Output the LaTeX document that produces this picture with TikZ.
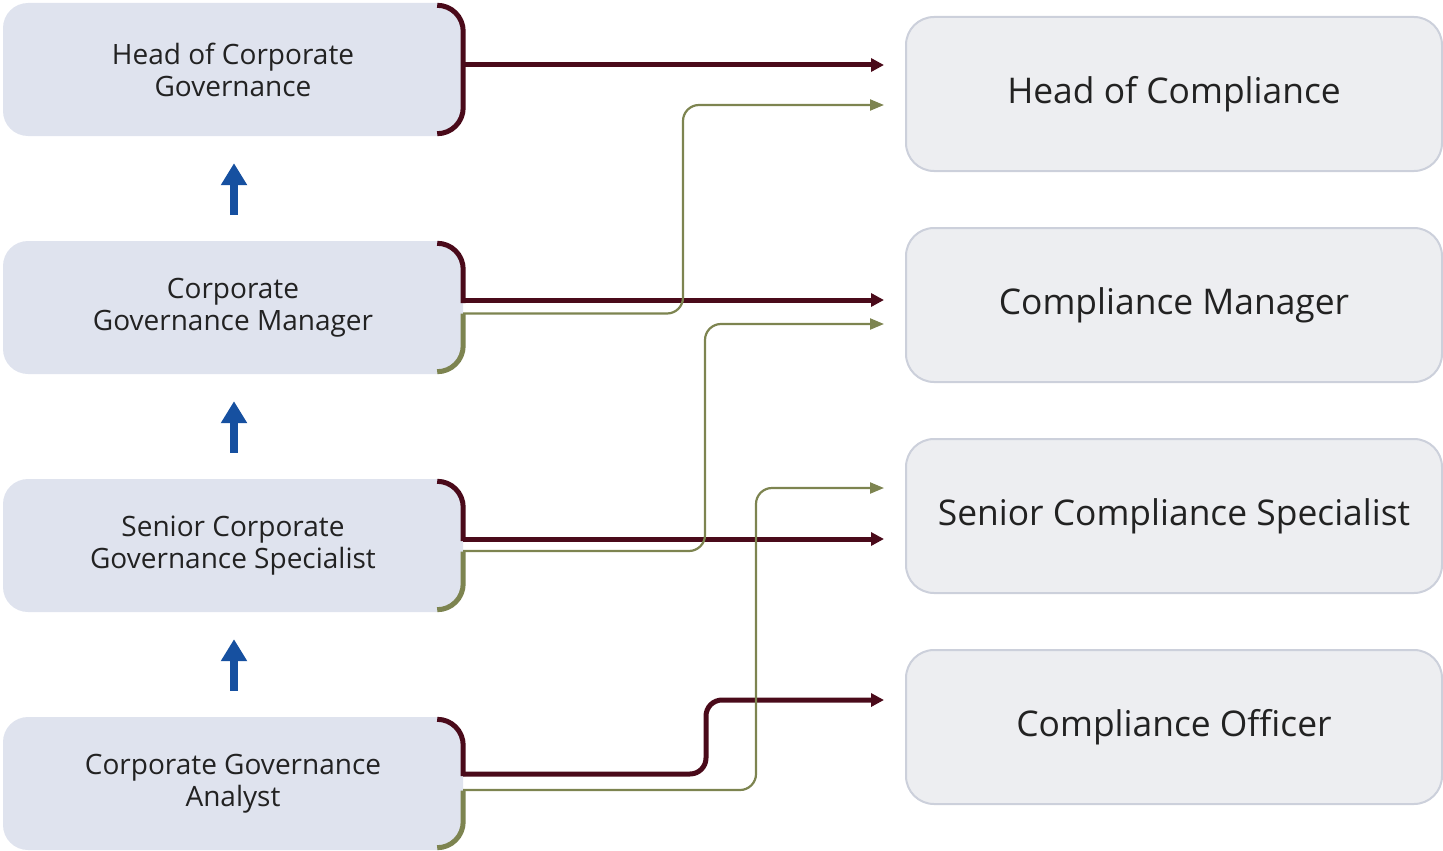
\documentclass[tikz,border=0pt]{standalone}
\usepackage{fontspec}
\setmainfont{Open Sans}
\usetikzlibrary{calc,arrows.meta}

\definecolor{leftfill}{HTML}{DFE3EE}
\definecolor{rightfill}{HTML}{EDEEF1}
\definecolor{rightedge}{HTML}{CCD0DB}
\definecolor{maroon}{HTML}{4A0A1A}
\definecolor{olivegreen}{HTML}{7D8450}
\definecolor{upblue}{HTML}{1650A0}
\definecolor{ink}{HTML}{222222}

\tikzset{
  leftbox/.style={fill=leftfill, rounded corners=25pt, minimum width=460pt,
    minimum height=133pt, inner sep=0pt, align=center, text=ink,
    font=\fontsize{28}{32}\selectfont},
  rightbox/.style={fill=rightfill, draw=rightedge, line width=2pt,
    rounded corners=28pt, minimum width=536pt, minimum height=154pt,
    inner sep=0pt, align=center, text=ink, font=\fontsize{35.4}{42}\selectfont},
  bracketmain/.style={draw=maroon, line width=5pt, rounded corners=26pt},
  bracketalt/.style={draw=olivegreen, line width=5pt, rounded corners=26pt},
  mainlink/.style={draw=maroon, line width=5pt, rounded corners=16pt,
    -{Triangle[length=13pt,width=13pt]}},
  altlink/.style={draw=olivegreen, line width=2.2pt, rounded corners=16pt,
    -{Triangle[length=14pt,width=11pt]}},
  promote/.style={draw=upblue, line width=8pt,
    -{Triangle[length=22pt,width=25pt]}},
}

\begin{document}
\begin{tikzpicture}[x=1pt,y=-1pt]
  \useasboundingbox (0,0) rectangle (1443,851);

  % career ladder on the left
  \node[leftbox] (l1) at (233,69.5) {Head of Corporate\\Governance};
  \node[leftbox] (l2) at (233,307.5) {\raisebox{-4pt}{Corporate}\\\raisebox{-4pt}{Governance Manager}};
  \node[leftbox] (l3) at (233,545.5) {Senior Corporate\\Governance Specialist};
  \node[leftbox] (l4) at (233,783.5) {Corporate Governance\\Analyst};

  % matching roles on the right
  \node[rightbox] (r1) at (1174,94) {Head of Compliance};
  \node[rightbox] (r2) at (1174,305) {Compliance Manager};
  \node[rightbox] (r3) at (1174,516) {Senior Compliance Specialist};
  \node[rightbox] (r4) at (1174,727) {Compliance Officer};

  % promotion arrows
  \draw[promote] ($(l2.north)+(1,-26)$) -- ($(l1.south)+(1,27)$);
  \draw[promote] ($(l3.north)+(1,-26)$) -- ($(l2.south)+(1,27)$);
  \draw[promote] ($(l4.north)+(1,-26)$) -- ($(l3.south)+(1,27)$);

  % brackets on the right edge of each ladder box
  \draw[bracketmain] ($(l1.north east)+(-26,2.5)$) -- ($(l1.north east)+(0,2.5)$)
    -- ($(l1.south east)+(0,-2.5)$) -- ($(l1.south east)+(-26,-2.5)$);
  \foreach \b/\m/\o in {l2/-4.5/6, l3/-4.5/6, l4/-7.5/7} {
    \draw[bracketmain] ($(\b.north east)+(-26,2.5)$) -- ($(\b.north east)+(0,2.5)$)
      -- ($(\b.east)+(0,\m)$);
    \draw[bracketalt] ($(\b.east)+(0,\o)$) -- ($(\b.south east)+(0,-2.5)$)
      -- ($(\b.south east)+(-26,-2.5)$);
  }

  % direct moves
  \draw[mainlink] ($(l1.east)+(0,-4.5)$) -- ($(r1.west)+(-21,-29)$);
  \draw[mainlink] ($(l2.east)+(0,-7.5)$) -- ($(r2.west)+(-21,-5)$);
  \draw[mainlink] ($(l3.east)+(0,-6.5)$) -- ($(r3.west)+(-21,23)$);
  \draw[mainlink] ($(l4.east)+(0,-9.5)$) -| ($(r4.west)+(-199,-27)$)
    -- ($(r4.west)+(-21,-27)$);

  % step-up moves
  \draw[altlink] ($(l2.east)+(0,6)$) -| ($(r1.west)+(-222,11)$)
    -- ($(r1.west)+(-21,11)$);
  \draw[altlink] ($(l3.east)+(0,5.5)$) -| ($(r2.west)+(-200,19)$)
    -- ($(r2.west)+(-21,19)$);
  \draw[altlink] ($(l4.east)+(0,6.5)$) -| ($(r3.west)+(-149,-28)$)
    -- ($(r3.west)+(-21,-28)$);
\end{tikzpicture}
\end{document}
